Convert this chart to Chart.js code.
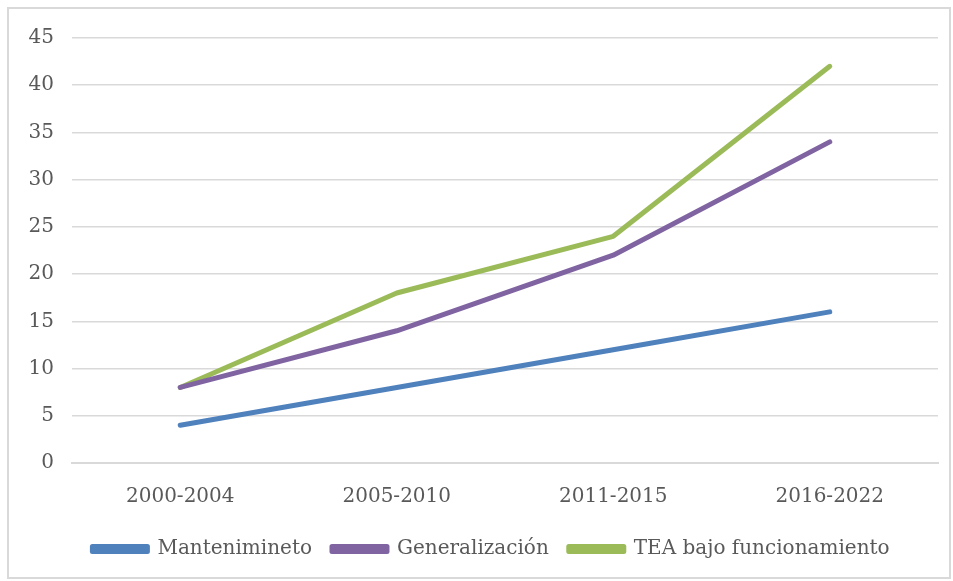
<!DOCTYPE html>
<html lang="es">
<head>
  <meta charset="UTF-8" />
  <title>Evolución por periodo</title>
  <script src="https://cdn.jsdelivr.net/npm/chart.js"></script>
  <style>html,body{margin:0;padding:0;background:#fff;}#wrap{width:953px;height:581px;}</style>
</head>
<body>
  <div id="wrap"><canvas id="chart" width="953" height="581"></canvas></div>
  <script>
    const periods = ['2000-2004', '2005-2010', '2011-2015', '2016-2022'];
    const mantenimiento = [4, 8, 12, 16];
    const generalizacion = [8, 14, 22, 34];
    const teaBajo = [8, 18, 24, 42];

    const FONT = '"DejaVu Serif", serif';

    // light frame round the whole chart, and the legend nudged right a bit like the original
    const frame = {
      id: 'frame',
      afterLayout(c) {
        if (c.legend) { c.legend.left += 22; c.legend.right += 22; }
      },
      beforeDraw(c) {
        const ctx = c.ctx;
        ctx.save();
        ctx.strokeStyle = '#d9d9d9';
        ctx.lineWidth = 2;
        ctx.strokeRect(8, 8, 942, 570);
        ctx.restore();
      }
    };

    const line = (label, data, color) => ({
      label, data,
      borderColor: color, backgroundColor: color,
      borderWidth: 5, borderCapStyle: 'round', borderJoinStyle: 'round',
      pointRadius: 0, tension: 0, fill: false
    });

    new Chart(document.getElementById('chart'), {
      type: 'line',
      data: {
        labels: periods,
        datasets: [
          line('Mantenimineto', mantenimiento, '#4f81bd'),
          line('Generalización', generalizacion, '#8064a2'),
          line('TEA bajo funcionamiento', teaBajo, '#9bbb59')
        ]
      },
      plugins: [frame],
      options: {
        responsive: false,
        animation: false,
        layout: { padding: { top: 38, right: 15, left: 0, bottom: 12 } },
        plugins: {
          tooltip: { enabled: false },
          legend: {
            position: 'bottom',
            labels: {
              font: { family: FONT, size: 20 },
              color: '#595959',
              boxWidth: 55, boxHeight: 5,
              padding: 20
            }
          }
        },
        scales: {
          x: {
            offset: true,
            grid: { display: false },
            border: { color: '#d9d9d9', width: 2 },
            ticks: { font: { family: FONT, size: 20 }, color: '#595959', padding: 14 },
            afterFit(s) { s.height = 56; }
          },
          y: {
            min: 0, max: 45,
            ticks: { stepSize: 5, font: { family: FONT, size: 20 }, color: '#595959', padding: 18 },
            grid: { color: '#d9d9d9', lineWidth: 1.5, drawTicks: false },
            border: { display: false },
            afterFit(s) { s.width = 72; }
          }
        }
      }
    });
  </script>
</body>
</html>
